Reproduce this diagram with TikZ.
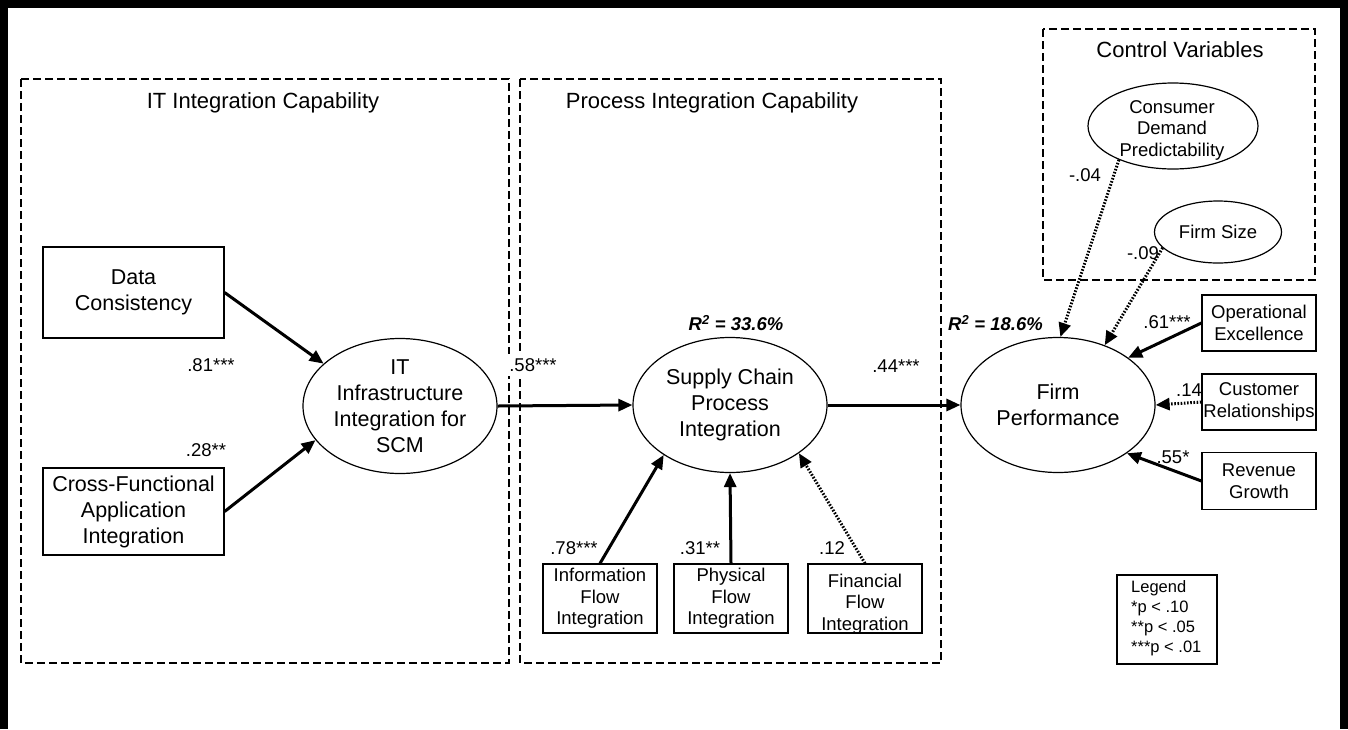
\documentclass[tikz,border=0pt]{standalone}
\usepackage{fontspec}
\setmainfont{Liberation Sans}
\usetikzlibrary{shapes.geometric,arrows.meta}
\begin{document}
\begin{tikzpicture}[x=1pt,y=-1pt,
  bigtext/.style={font=\fontsize{21.5}{26}\selectfont, align=center, inner sep=0pt},
  smalltext/.style={font=\fontsize{18.5}{21.5}\selectfont, align=center, inner sep=0pt},
  bigell/.style={draw, ellipse, line width=1.2pt, minimum width=194pt, minimum height=135pt, inner sep=0pt},
  ctrlell/.style={draw, ellipse, line width=1.2pt, inner sep=0pt},
  bigbox/.style={draw, rectangle, line width=1.2pt, inner sep=0pt, minimum width=181pt, bigtext},
  smallbox/.style={draw, rectangle, line width=1.2pt, inner sep=0pt, minimum width=114pt, smalltext},
  coef/.style={font=\fontsize{18.5}{20}\selectfont, inner sep=0pt},
  rsq/.style={font=\fontsize{18.5}{20}\selectfont\bfseries\itshape, inner sep=0pt},
  grouptitle/.style={font=\fontsize{22}{26}\selectfont, inner sep=0pt},
  groupbox/.style={draw, line width=2.4pt, dash pattern=on 8pt off 4pt},
  sarr/.style={line width=3pt, -{Triangle[length=14pt,width=12pt]}},
  darr/.style={line width=3pt, dash pattern=on 1.6pt off 1.6pt, -{Triangle[length=14pt,width=12pt]}},
]
\useasboundingbox (0,0) rectangle (1348,729);
\fill[white] (0,0) rectangle (1348,729);
% outer frame (top, left, right)
\draw[line width=8pt] (4,729) -- (4,4) -- (1344,4) -- (1344,729);

% group boxes
\draw[groupbox] (21,79) rectangle (509,663);
\draw[groupbox] (520,79) rectangle (941,663);
\draw[groupbox] (1043,29) rectangle (1315,280);
\node[grouptitle] (t1) at (263,103) {IT Integration Capability};
\node[grouptitle] (t2) at (712,103) {Process Integration Capability};
\node[grouptitle] (t3) at (1180,50) {Control Variables};

% left boxes
\node[bigbox, minimum height=91pt] (dc) at (133.5,292.5) {Data\\Consistency};
\node[bigbox, minimum height=87pt] (cf) at (133.5,511.5) {Cross-Functional\\Application\\Integration};

% main ellipses
\node[bigell] (it) at (400,406) {};
\node[bigtext] (itt) at (400,406) {IT\\Infrastructure\\Integration for\\SCM};
\node[bigell] (scp) at (730,405) {};
\node[bigtext] (scpt) at (730,405) {Supply Chain\\Process\\Integration};
\node[bigell] (fp) at (1058,405) {};
\node[bigtext] (fpt) at (1058,405) {Firm\\Performance};

% control variables
\node[ctrlell, minimum width=170pt, minimum height=86pt] (cdp) at (1173,126) {};
\node[smalltext] (cdpt) at (1172,130) {Consumer\\Demand\\Predictability};
\node[ctrlell, minimum width=127pt, minimum height=62pt] (fs) at (1218,232) {};
\node[smalltext] (fst) at (1218,232) {Firm Size};

% process boxes
\node[smallbox, minimum height=69pt] (if) at (600,598.5) {Information\\Flow\\Integration};
\node[smallbox, minimum height=69pt] (pf) at (731,598.5) {Physical\\Flow\\Integration};
\node[smallbox, minimum height=69pt] (ff) at (865,598.5) {};
\node[smalltext] (fft) at (865,604) {Financial\\Flow\\Integration};

% performance boxes
\node[smallbox, minimum height=56pt] (oe) at (1259,323) {Operational\\Excellence};
\node[smallbox, minimum height=56pt] (cr) at (1259,402) {Customer\\Relationships};
\node[smallbox, minimum height=57pt] (rg) at (1259,481) {Revenue\\Growth};

% legend
\node[draw, line width=1.2pt, minimum width=100pt, minimum height=89pt, inner sep=0pt] (leg) at (1167,619.5) {};
\node[anchor=west, align=left, inner sep=0pt, font=\fontsize{16.5}{20}\selectfont] (legt) at (1131,618) {Legend\\{}*p < .10\\{}**p < .05\\{}***p < .01};

% arrows
\draw[sarr] (dc.east) -- (it.151);
\draw[sarr] (cf.east) -- (it.202);
\draw[sarr] (it.east) -- (scp.west);
\draw[sarr] (scp.east) -- (fp.west);
\draw[sarr] (if.north) -- (scp.217);
\draw[sarr] (pf.north) -- (scp.south);
\draw[darr] (ff.north) -- (scp.325);
\draw[darr] (cdp.212) -- (fp.88);
\draw[darr] (fs.196) -- (fp.52);
\draw[sarr] (oe.west) -- (fp.34);
\draw[darr] (cr.west) -- (fp.east);
\draw[sarr] (rg.west) -- (fp.325);

% coefficients
\node[coef] (c1) at (211,365) {.81***};
\node[coef] (c2) at (206,450) {.28**};
\node[coef, fill=white, inner ysep=4pt, inner xsep=1pt] (c3) at (533,365) {.58***};
\node[coef] (c4) at (896,366) {.44***};
\node[rsq] (r1) at (736,323) {R\textsuperscript{2} = 33.6\%};
\node[rsq, anchor=west] (r2) at (948,323) {R\textsuperscript{2} = 18.6\%};
\node[coef] (c5) at (1167,322) {.61***};
\node[coef] (c6) at (1189,390) {.14};
\node[coef] (c7) at (1173,457) {.55*};
\node[coef] (c8) at (1085,175) {-.04};
\node[coef] (c9) at (1143,253) {-.09};
\node[coef] (c10) at (574,548) {.78***};
\node[coef] (c11) at (700,548) {.31**};
\node[coef] (c12) at (832,548) {.12};
\end{tikzpicture}
\end{document}
